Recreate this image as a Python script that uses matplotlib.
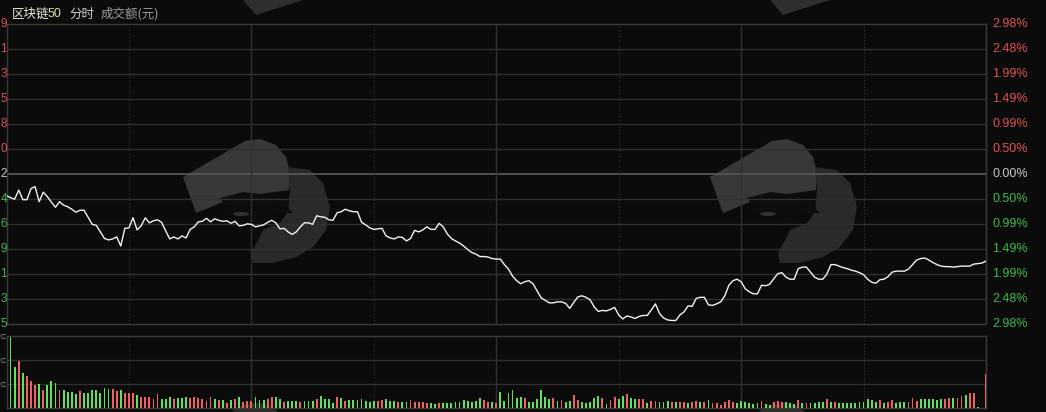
import matplotlib
matplotlib.use("Agg")
import matplotlib.pyplot as plt
from matplotlib.patches import Polygon, Ellipse

# ---------------- data ----------------
# percent change vs previous close, one value per minute (241 minutes)
pct = [
    -0.43, -0.47, -0.50, -0.32, -0.51, -0.51, -0.29, -0.25, -0.55, -0.36,
    -0.45, -0.56, -0.66, -0.55, -0.62, -0.65, -0.70, -0.76, -0.72, -0.72,
    -0.86, -1.00, -1.02, -1.15, -1.28, -1.31, -1.29, -1.25, -1.43, -1.08,
    -1.07, -0.87, -1.11, -1.03, -0.87, -0.97, -0.93, -0.91, -0.96, -1.13,
    -1.29, -1.25, -1.29, -1.23, -1.27, -1.10, -1.05, -0.95, -0.94, -0.88,
    -0.95, -0.89, -0.92, -0.94, -0.93, -0.98, -0.94, -1.03, -1.02, -0.99,
    -1.00, -1.05, -1.03, -1.01, -0.96, -0.92, -0.97, -1.09, -1.08, -1.15,
    -1.20, -1.15, -1.05, -0.97, -0.97, -1.00, -0.83, -0.85, -0.86, -0.91,
    -0.92, -0.77, -0.75, -0.70, -0.73, -0.75, -0.75, -0.96, -1.01, -1.07,
    -1.10, -1.09, -1.08, -1.23, -1.27, -1.29, -1.25, -1.26, -1.33, -1.28,
    -1.12, -1.15, -1.11, -1.05, -1.10, -1.10, -0.98, -1.05, -1.19, -1.28,
    -1.33, -1.37, -1.43, -1.50, -1.56, -1.59, -1.64, -1.64, -1.65, -1.68,
    -1.69, -1.69, -1.80, -1.89, -2.03, -2.12, -2.18, -2.14, -2.12, -2.18,
    -2.32, -2.46, -2.51, -2.56, -2.56, -2.54, -2.54, -2.57, -2.67, -2.55,
    -2.44, -2.42, -2.45, -2.50, -2.64, -2.73, -2.71, -2.72, -2.69, -2.65,
    -2.80, -2.88, -2.82, -2.84, -2.87, -2.83, -2.81, -2.81, -2.70, -2.58,
    -2.77, -2.86, -2.90, -2.91, -2.91, -2.80, -2.74, -2.62, -2.63, -2.47,
    -2.45, -2.45, -2.60, -2.61, -2.58, -2.54, -2.42, -2.21, -2.12, -2.09,
    -2.14, -2.28, -2.34, -2.38, -2.38, -2.21, -2.22, -2.19, -2.08, -1.98,
    -1.96, -2.05, -2.09, -2.09, -1.88, -1.85, -1.85, -1.95, -2.05, -2.09,
    -2.09, -1.99, -1.80, -1.80, -1.83, -1.86, -1.88, -1.91, -1.93, -1.96,
    -2.00, -2.09, -2.15, -2.17, -2.10, -2.09, -2.04, -1.95, -1.93, -1.93,
    -1.93, -1.89, -1.80, -1.71, -1.68, -1.67, -1.71, -1.76, -1.80, -1.83,
    -1.84, -1.84, -1.85, -1.84, -1.83, -1.83, -1.83, -1.79, -1.78, -1.77,
    -1.73,
]

# turnover per minute (axis top = 72 units)
volume = [
    19, 71.3, 41.3, 47, 35.3, 32, 27, 23, 24, 18,
    23, 27, 25.3, 18, 18, 16, 16, 14.3, 17, 15,
    15, 18, 18, 15, 19.7, 19, 18.7, 17, 18, 15,
    15, 15, 13, 10.7, 10.7, 10.7, 9.3, 13.7, 9.3, 9.3,
    11, 9.3, 10, 10, 11, 10, 11, 10, 9.3, 7,
    11, 8.7, 8.3, 8, 5.3, 8, 9.3, 11, 6, 7,
    7, 11, 8.3, 8.3, 9.3, 11, 11, 8.7, 6, 7,
    7, 7, 6, 7, 7, 7, 9.3, 12, 9.3, 8.7,
    5, 11, 10, 7, 7.7, 7.7, 7.7, 8.7, 7, 6,
    7, 7, 7.7, 8.7, 7, 7, 6, 6, 6, 7.7,
    6, 6, 6, 5, 5, 4.3, 5, 5, 5, 5,
    6, 6, 7.7, 7, 6, 7, 10, 7.7, 6, 6,
    5, 16, 7, 14.7, 17.7, 10,
    10.7, 10, 6, 6, 8.7, 18, 10.7, 8.7, 10, 7,
    7.7, 6, 7, 13, 7.7, 6, 5, 6, 10, 12,
    10, 4.3, 7.7, 11, 8.7, 12, 14, 10, 9.3, 8.7,
    8.7, 5, 7, 7, 6, 6, 7, 6, 6, 6,
    6, 5, 6, 7, 6, 6, 7.7, 5, 5, 3,
    6, 7.7, 6, 5, 7, 6, 5, 4.3, 5, 7,
    4.3, 3, 6, 7, 6, 6, 5, 4.3, 7.7, 5,
    5, 5, 5, 6, 6, 8.7, 6, 6, 5, 5,
    5, 5, 5, 6, 6, 8.7, 7.7, 6, 7.7, 5,
    6, 7.7, 5, 6, 6, 6, 9.7, 7, 8.7, 9.3,
    8.7, 9.3, 7.7, 8.7, 8.7, 10, 10, 10, 12, 12.7,
    15, 15, 1, 0, 34,
]

volume_side = (
    "gggrgrrrgr" "gggrggggrg" "ggggggrrgr" "rrgrrrrrgg" "grgggrrrrr"
    "rgrgrgrgrr" "rgggrrggrg" "ggrgggrggg" "grgrgggggg" "grrgggrggr"
    "rrrrggrggg" "gggggggrrg" "rggggg"
    "grggggggrg" "rggrrggggg" "rgrrggrggr" "rgrrgggrgr" "rgrrgrgrrr"
    "rrrggggggr" "ggrrrgggrg" "rggggrgrgg" "ggggggggrg" "rrgggrrrgg"
    "ggggrrgrrg" "rrg" "gr"
)

# left price scale: only the last digit is visible at the picture's edge
price_labels = ["9", "1", "3", "5", "8", "0", "2", "4", "6", "9", "1", "3", "5"]
pct_labels = ["2.98%", "2.48%", "1.99%", "1.49%", "0.99%", "0.50%", "0.00%",
              "0.50%", "0.99%", "1.49%", "1.99%", "2.48%", "2.98%"]
vol_labels = ["亿", "亿", "亿"]
title_parts = ["区块链", "50", "分时", "成交额(元)"]

# ---------------- style ----------------
W, H = 1046, 412
BG = "#0b0b0b"
GRID = "#303030"
RED = "#e0534f"
GREEN = "#3dbb4c"
BAR_RED = "#f06262"
BAR_GREEN = "#5fe05f"
NUM_FONT = ["Liberation Sans", "DejaVu Sans"]
CJK_FONT = ["Noto Sans CJK SC", "DejaVu Sans"]

fig = plt.figure(figsize=(W / 100, H / 100), dpi=100, facecolor=BG)

# watermark layer (full figure, pixel coordinates)
wm = fig.add_axes([0, 0, 1, 1], zorder=0)
wm.set_xlim(0, W)
wm.set_ylim(H, 0)
wm.axis("off")
wm.set_facecolor(BG)

def logo(dx):
    upper = [(710, 177), (772, 141), (787, 139), (803, 145), (813, 157),
             (817, 172), (816, 190), (780, 195), (750, 202), (723, 213)]
    lower = [(815, 167), (837, 170), (850, 183), (857, 207), (853, 230),
             (840, 247), (823, 257), (800, 263), (780, 263), (778, 253),
             (787, 237), (790, 230), (807, 223), (815, 212), (817, 190)]
    head = [(747, 198), (770, 192), (797, 195), (810, 203), (820, 213),
            (807, 213), (790, 220), (783, 230), (773, 217), (757, 212)]
    wm.add_patch(Polygon([(x + dx, y) for x, y in upper], closed=True,
                         fc="#383838", ec="none"))
    wm.add_patch(Polygon([(x + dx, y) for x, y in lower], closed=True,
                         fc="#2a2a2a", ec="none"))
    wm.add_patch(Polygon([(x + dx, y) for x, y in head], closed=True,
                         fc="#0d0d0d", ec="none"))
    wm.add_patch(Ellipse((768 + dx, 214), 16, 4, fc="#303030", ec="none"))
    wm.add_patch(Polygon([(770 + dx, 0), (783 + dx, 15), (830 + dx, 0)],
                         closed=True, fc="#2e2e2e", ec="none"))
    wm.add_patch(Ellipse((782 + dx, 418), 50, 30, fc="#2c2c2c", ec="none"))

logo(0)
logo(-527)

# ---------------- main price panel ----------------
ax = fig.add_axes([6.5 / W, 88 / H, 979.5 / W, 300 / H], zorder=1)
ax.set_facecolor("none")
ax.set_xlim(0, 240)
ax.set_ylim(-2.98, 2.98)
ax.set_xticks([])
ax.set_yticks([])
for s in ax.spines.values():
    s.set_color("#3a3a3a")
    s.set_linewidth(1)

levels = [2.98 * k / 6 for k in range(6, -7, -1)]
for lv in levels[1:-1]:
    ax.axhline(lv, color="#555555" if abs(lv) < 1e-9 else GRID,
               lw=1.3 if abs(lv) < 1e-9 else 1, zorder=1)
for m in range(30, 240, 30):
    if m % 60 == 30:
        ax.axvline(m, color="#3a3a3a", lw=0.8, ls=(0, (1, 2)), zorder=1)
    else:
        ax.axvline(m, color=GRID, lw=1, zorder=1)

ax.plot(range(len(pct)), pct, color="#f2f2f2", lw=1.0, zorder=3)

for lv, lab, plab in zip(levels, pct_labels, price_labels):
    col = RED if lv > 1e-9 else (GREEN if lv < -1e-9 else "#c8c8c8")
    ax.text(1 + 6 / 979.5, lv, lab, transform=ax.get_yaxis_transform(),
            ha="left", va="center", color=col, fontsize=9, family=NUM_FONT)
    ax.text(-6.3 / 979.5, lv, plab, transform=ax.get_yaxis_transform(),
            ha="left", va="center", color=col, fontsize=8.5, family=NUM_FONT)

# ---------------- volume panel ----------------
ax2 = fig.add_axes([6.5 / W, 4 / H, 979.5 / W, 72 / H], zorder=1)
ax2.set_facecolor("none")
ax2.set_xlim(0, 240)
ax2.set_ylim(0, 72)
ax2.set_xticks([])
ax2.set_yticks([])
for s in ax2.spines.values():
    s.set_color("#3a3a3a")
    s.set_linewidth(1)
for lv in (24, 48):
    ax2.axhline(lv, color=GRID, lw=1, zorder=1)
for m in range(30, 240, 30):
    if m % 60 == 30:
        ax2.axvline(m, color="#3a3a3a", lw=0.8, ls=(0, (1, 2)), zorder=1)
    else:
        ax2.axvline(m, color=GRID, lw=1, zorder=1)

bar_colors = [BAR_RED if c == "r" else BAR_GREEN for c in volume_side]
ax2.bar(range(len(volume)), volume, width=0.45, color=bar_colors,
        linewidth=0, antialiased=False, zorder=3)

for lv, lab in zip((72, 48, 24), vol_labels):
    ax2.text(-6.5 / 979.5, lv - 1, lab, transform=ax2.get_yaxis_transform(),
             ha="left", va="center", color="#8a8a8a", fontsize=4.5,
             family=CJK_FONT)

# ---------------- header ----------------
ty = 1 - 14 / H
fig.text(12 / W, ty, title_parts[0], color="#ecebdc", fontsize=9,
         family=CJK_FONT, va="center", ha="left")
fig.text(47.5 / W, ty, title_parts[1], color="#d9dfa8", fontsize=9,
         family=NUM_FONT, va="center", ha="left")
fig.text(69 / W, ty, title_parts[2], color="#d0d0d0", fontsize=9,
         family=CJK_FONT, va="center", ha="left")
fig.text(101 / W, ty, title_parts[3], color="#9c9c9c", fontsize=9,
         family=CJK_FONT, va="center", ha="left")

fig.savefig("out.png", dpi=100, facecolor=BG)
